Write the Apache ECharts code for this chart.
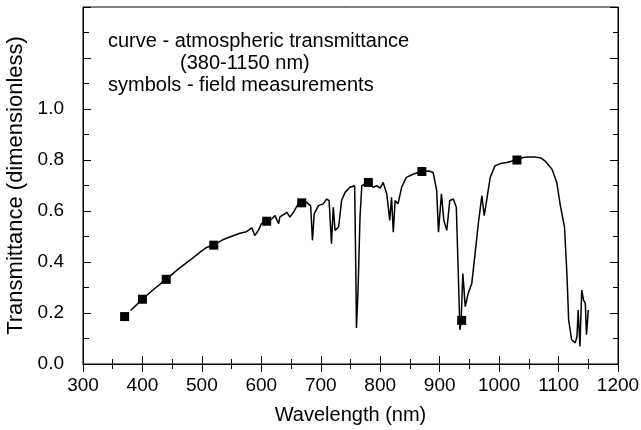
<!DOCTYPE html>
<html>
<head>
<meta charset="utf-8">
<script src="https://cdn.jsdelivr.net/npm/echarts@6/dist/echarts.min.js"></script>
<style>
html,body{margin:0;padding:0;background:#fff;}
#c{width:641px;height:430px;}
</style>
</head>
<body>
<div id="c"></div>
<script>
// Continuous atmospheric transmittance curve (nm, dimensionless)
var curveWavelength = [380,390,400,420,440,460,480,497,508,520,535,547,564,575,584,589,595,600,608,615,623,629,631,643,648,654,662,668,676,683,686,689,696,704,710,714,718,721,724,730,735,741,749,757,759,760,762,763,766,769,780,788,794,800,805,811,816,819,822,825,830,836,844,856,870,882,889,895,898,903,907,912,917,923,928,931,934,936,939,943,948,954,959,965,971,975,979,985,993,1002,1013,1024,1030,1040,1050,1060,1070,1077,1089,1097,1103,1110,1114,1117,1122,1128,1131,1133,1136,1139,1142,1145,1147,1150];
var curveTransmittance = [0.21,0.232,0.254,0.295,0.332,0.372,0.407,0.439,0.457,0.467,0.487,0.498,0.513,0.519,0.534,0.504,0.524,0.55,0.56,0.563,0.582,0.55,0.576,0.595,0.576,0.595,0.628,0.632,0.634,0.62,0.485,0.589,0.621,0.628,0.647,0.641,0.472,0.615,0.524,0.537,0.641,0.673,0.693,0.699,0.355,0.141,0.25,0.316,0.576,0.699,0.712,0.693,0.699,0.69,0.712,0.667,0.563,0.654,0.517,0.641,0.628,0.693,0.732,0.745,0.755,0.757,0.751,0.68,0.517,0.667,0.563,0.524,0.641,0.647,0.615,0.381,0.134,0.16,0.355,0.225,0.277,0.316,0.42,0.55,0.66,0.582,0.641,0.732,0.777,0.786,0.79,0.797,0.80,0.81,0.812,0.812,0.808,0.797,0.764,0.712,0.621,0.537,0.355,0.173,0.095,0.083,0.108,0.212,0.069,0.29,0.251,0.238,0.115,0.212];
// Field measurements (symbols)
var measWavelength = [370,400,440,520,609,668,780,870,937,1030];
var measTransmittance = [0.186,0.254,0.332,0.466,0.56,0.632,0.712,0.755,0.171,0.80];
// Axis tick labels
var xTicks = [300,400,500,600,700,800,900,1000,1100,1200];
var yTickLabels = ['0.0','0.2','0.4','0.6','0.8','1.0'];
var textLines = ['curve - atmospheric transmittance','(380-1150 nm)','symbols - field measurements'];

var FONT = '"Liberation Sans", Arial, sans-serif';
var curveData = curveWavelength.map(function(w,i){return [w, curveTransmittance[i]];});
var measData = measWavelength.map(function(w,i){return [w, measTransmittance[i]];});

var chart = echarts.init(document.getElementById('c'), null, {renderer:'canvas'});
var tickStyle = {color:'#000', width:1};
chart.setOption({
  animation:false,
  backgroundColor:'#fff',
  grid:{left:83, right:23, top:7, bottom:66, containLabel:false, outerBoundsMode:'none',
    show:true, borderColor:'#000', borderWidth:1, backgroundColor:'transparent'},
  xAxis:[{
    type:'value', min:xTicks[0], max:xTicks[xTicks.length-1], interval:100, position:'bottom',
    name:'Wavelength (nm)', nameLocation:'middle', nameGap:41,
    nameTextStyle:{fontFamily:FONT, fontSize:20, color:'#000'},
    axisLine:{show:true, lineStyle:{color:'#000', width:1}},
    axisTick:{show:true, inside:true, length:8, lineStyle:tickStyle},
    minorTick:{show:true, splitNumber:2, length:5, lineStyle:tickStyle},
    splitLine:{show:false},
    axisLabel:{fontFamily:FONT, fontSize:19, color:'#000', margin:12,
      formatter:function(v){return String(v);}}
  },{
    type:'value', min:xTicks[0], max:xTicks[xTicks.length-1], interval:100, position:'top',
    axisLine:{show:true, lineStyle:{color:'#000', width:1}},
    axisTick:{show:true, inside:true, length:8, lineStyle:tickStyle},
    minorTick:{show:true, splitNumber:2, length:5, lineStyle:tickStyle},
    splitLine:{show:false}, axisLabel:{show:false}
  }],
  yAxis:[{
    type:'value', min:0, max:1.4, interval:0.2, position:'left',
    name:'Transmittance (dimensionless)', nameLocation:'middle', nameGap:53, nameRotate:90,
    nameTextStyle:{fontFamily:FONT, fontSize:22, color:'#000'},
    axisLine:{show:true, lineStyle:{color:'#000', width:1}},
    axisTick:{show:true, inside:true, length:8, lineStyle:tickStyle},
    minorTick:{show:true, splitNumber:2, length:6, lineStyle:tickStyle},
    splitLine:{show:false},
    axisLabel:{fontFamily:FONT, fontSize:19, color:'#000', margin:19,
      formatter:function(v){var k=Math.round(v*5); return k<yTickLabels.length? yTickLabels[k] : '';}}
  },{
    type:'value', min:0, max:1.4, interval:0.2, position:'right',
    axisLine:{show:true, lineStyle:{color:'#000', width:1}},
    axisTick:{show:true, inside:true, length:8, lineStyle:tickStyle},
    minorTick:{show:true, splitNumber:2, length:5, lineStyle:tickStyle},
    splitLine:{show:false}, axisLabel:{show:false}
  }],
  graphic:[
    {type:'text', left:108, top:31, style:{text:textLines[0], font:'20px '+FONT, fill:'#000'}},
    {type:'text', left:180, top:53, style:{text:textLines[1], font:'20px '+FONT, fill:'#000'}},
    {type:'text', left:108, top:75, style:{text:textLines[2], font:'20px '+FONT, fill:'#000'}}
  ],
  series:[{
    type:'line', data:curveData, xAxisIndex:0, yAxisIndex:0,
    showSymbol:false, symbol:'none', smooth:false,
    lineStyle:{color:'#000', width:1.5}, z:2
  },{
    type:'scatter', data:measData, xAxisIndex:0, yAxisIndex:0,
    symbol:'rect', symbolSize:9, itemStyle:{color:'#000', opacity:1}, z:3
  }]
});
</script>
</body>
</html>
